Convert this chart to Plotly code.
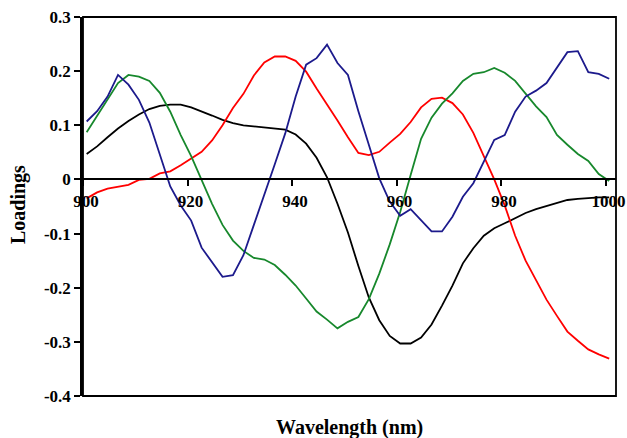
import plotly.graph_objects as go

# Wavelength grid (nm)
wavelength = [900.7, 902.7, 904.7, 906.7, 908.7, 910.7, 912.7, 914.7, 916.7, 918.7,
              920.7, 922.7, 924.7, 926.7, 928.7, 930.7, 932.7, 934.7, 936.7, 938.7,
              940.7, 942.7, 944.7, 946.7, 948.7, 950.7, 952.7, 954.7, 956.7, 958.7,
              960.7, 962.7, 964.7, 966.7, 968.7, 970.7, 972.7, 974.7, 976.7, 978.7,
              980.7, 982.7, 984.7, 986.7, 988.7, 990.7, 992.7, 994.7, 996.7, 998.7,
              1000.7]

# Loadings of the four components
black = [0.047, 0.061, 0.078, 0.094, 0.108, 0.120, 0.130, 0.136, 0.138, 0.138,
         0.133, 0.126, 0.118, 0.110, 0.104, 0.100, 0.098, 0.096, 0.094, 0.092,
         0.083, 0.066, 0.040, 0.004, -0.045, -0.098, -0.160, -0.218, -0.260, -0.289,
         -0.303, -0.303, -0.292, -0.268, -0.233, -0.196, -0.155, -0.127, -0.104, -0.090,
         -0.081, -0.072, -0.062, -0.055, -0.049, -0.043, -0.038, -0.036, -0.034, -0.033,
         -0.033]

red = [-0.035, -0.024, -0.017, -0.013, -0.010, -0.001, 0.001, 0.011, 0.015, 0.026,
       0.038, 0.051, 0.072, 0.100, 0.132, 0.158, 0.192, 0.216, 0.227, 0.227,
       0.219, 0.199, 0.168, 0.139, 0.109, 0.078, 0.049, 0.045, 0.051, 0.068,
       0.084, 0.106, 0.133, 0.149, 0.151, 0.141, 0.120, 0.086, 0.044, 0.000,
       -0.048, -0.104, -0.150, -0.186, -0.222, -0.252, -0.281, -0.298, -0.314, -0.323,
       -0.331]

green = [0.087, 0.117, 0.148, 0.178, 0.193, 0.190, 0.182, 0.160, 0.125, 0.082,
         0.043, 0.000, -0.045, -0.084, -0.113, -0.132, -0.145, -0.148, -0.158, -0.176,
         -0.196, -0.220, -0.244, -0.259, -0.275, -0.263, -0.254, -0.221, -0.174, -0.120,
         -0.060, 0.008, 0.075, 0.114, 0.140, 0.159, 0.182, 0.195, 0.198, 0.206,
         0.197, 0.182, 0.158, 0.135, 0.115, 0.082, 0.064, 0.047, 0.034, 0.010,
         -0.003]

blue = [0.107, 0.126, 0.153, 0.193, 0.175, 0.147, 0.105, 0.045, -0.013, -0.048,
        -0.076, -0.126, -0.152, -0.180, -0.177, -0.140, -0.084, -0.030, 0.028, 0.085,
        0.153, 0.212, 0.224, 0.249, 0.215, 0.193, 0.126, 0.064, 0.002, -0.041,
        -0.067, -0.055, -0.075, -0.096, -0.096, -0.069, -0.032, -0.007, 0.033, 0.073,
        0.082, 0.125, 0.153, 0.164, 0.178, 0.206, 0.235, 0.237, 0.198, 0.195,
        0.186]

x_ticks = [900, 920, 940, 960, 980, 1000]
y_ticks = [-0.4, -0.3, -0.2, -0.1, 0, 0.1, 0.2, 0.3]
y_labels = ["-0.4", "-0.3", "-0.2", "-0.1", "0", "0.1", "0.2", "0.3"]

X_RANGE = [900, 1002]
Y_RANGE = [-0.4, 0.3]
FONT = "Liberation Serif, Times New Roman, serif"
TICK_FONT = dict(family=FONT, size=17, color="black", weight="bold")

fig = go.Figure()
for ys, col in [(black, "#000000"), (red, "#FF0000"), (green, "#17882C"), (blue, "#1C1A8C")]:
    fig.add_trace(go.Scatter(x=wavelength, y=ys, mode="lines",
                             line=dict(color=col, width=1.8), showlegend=False))

# x axis crosses at y = 0
zero_pos = (0 - Y_RANGE[0]) / (Y_RANGE[1] - Y_RANGE[0])

fig.update_layout(
    width=627, height=438,
    margin=dict(l=83, r=11, t=17, b=42),
    paper_bgcolor="white", plot_bgcolor="white",
    font=dict(family=FONT, size=17, color="black"),
    xaxis=dict(range=X_RANGE, tickvals=x_ticks, ticktext=[str(v) for v in x_ticks],
               showgrid=False, zeroline=False, showline=True, linecolor="black",
               linewidth=2, ticks="outside", ticklen=6, tickwidth=2, tickcolor="black",
               anchor="free", position=zero_pos, ticklabelshift=3, automargin=False,
               tickfont=TICK_FONT),
    yaxis=dict(range=Y_RANGE, tickvals=y_ticks, ticktext=y_labels,
               showgrid=False, zeroline=False, showline=True, linecolor="black",
               linewidth=2.5, ticks="outside", ticklen=6, tickwidth=2, tickcolor="black",
               automargin=False, tickfont=TICK_FONT),
    shapes=[dict(type="rect", xref="paper", yref="paper", x0=0, x1=1, y0=0, y1=1,
                 line=dict(color="black", width=1.8), layer="above")],
    annotations=[
        dict(text="<b>Wavelength (nm)</b>", xref="paper", yref="paper", x=0.5, y=-0.084,
             xanchor="center", yanchor="middle", showarrow=False,
             font=dict(family=FONT, size=20, color="black")),
        dict(text="<b>Loadings</b>", xref="paper", yref="paper", x=-0.12, y=0.504,
             xanchor="center", yanchor="middle", textangle=-90, showarrow=False,
             font=dict(family=FONT, size=20, color="black")),
    ],
)

fig.write_html("out.html")
